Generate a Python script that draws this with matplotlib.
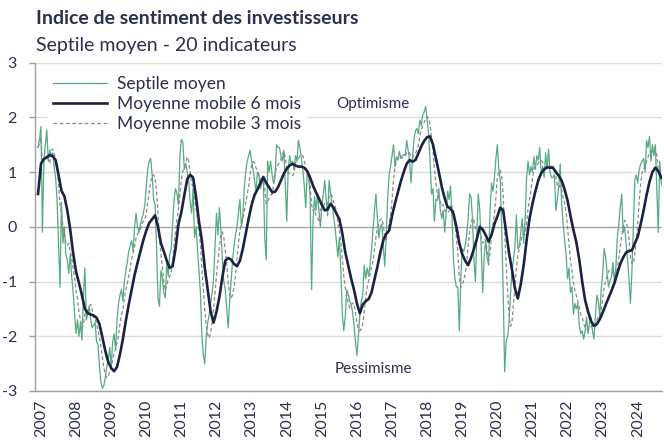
import numpy as np
import pandas as pd
import matplotlib
matplotlib.use("Agg")
import matplotlib.pyplot as plt

plt.rcParams['font.family'] = ['Lato', 'DejaVu Sans']
plt.rcParams['axes.unicode_minus'] = False

# ---------------- data ----------------
START = 2006 + 11 / 12  # December 2006

# Septile moyen (semi-monthly readings)
septile = [
    1.45, 1.6, 1.83, -0.1, 1.2, 1.5, 1.77, 1.2, 1.4, 1.3,
    1.35, 1.1, 0.9, 0.5, -0.3, -1.1, 0.45, -0.3, 0.0, -0.5,
    -0.6, -0.85, -0.5, -0.9, -1.2, -1.6, -1.95, -1.7, -2.0, -1.75,
    -2.07, -1.3, -0.75, -1.7, -1.6, -1.45, -1.7, -1.85, -1.8, -1.75,
    -2.1, -2.15, -2.55, -2.85, -2.95, -2.9, -2.75, -2.55, -2.45, -2.2,
    -2.55, -2.1, -1.95, -2.25, -1.7, -1.4, -1.25, -1.15, -1.35, -1.0,
    -0.8, -0.65, -0.45, -0.35, -0.25, -0.45, 0.0, 0.25, 0.0, -0.1,
    0.05, 0.15, 0.25, 0.4, 0.75, 1.05, 1.2, 1.25, 0.95, 0.5,
    0.4, -0.35, -1.3, -1.45, -0.8, -0.95,
    -1.2, -1.3, -0.65, -0.9, -0.5, -0.4, 0.05, 0.5, 0.7, 0.6,
    0.4, 1.3, 1.6, 1.55, 1.05, 1.15, 1.0, 0.85, 0.45, 0.25,
    0.7, -0.2, 0.0, -0.4, -0.8, -1.2, -2.0, -2.35, -2.5, -2.0,
    -1.75, -1.6, -1.4, -1.2, -0.95, -0.35, 0.25, -0.15, 0.35, -0.05,
    -0.6, -1.0, -1.15, -1.5, -1.85, -1.35, -1.0, -0.6, -0.35, -0.15,
    0.0, 0.25, 0.5, 0.0, 0.2, 0.7, 1.0, 1.2, 1.3, 1.4,
    1.2, 1.05, 0.85, 0.65, 1.0, 0.95, 0.7, 0.8, 0.9, -0.2,
    -0.6, 1.2, 1.0, 1.2, 0.95, 0.8, 0.9, 1.5, 1.45, 1.45,
    1.3, 1.2, 1.4, 0.8, 0.1, 1.05, 1.3, 1.15, 1.2,
    1.05, 1.3, 1.2, 1.58, 1.45, 1.25, 1.05, 0.75, 0.35, 1.0,
    0.92, 0.55, -1.15, 0.1, 0.55, 0.3, 0.6, 0.3, 0.0, 0.35,
    0.6, 0.85, 0.5, 0.2, 0.85, 0.6, 0.4, 0.2, 0.0, -0.28,
    -0.55, -0.2, -0.8, -1.6, -1.9, -1.65, -1.15, -1.22, -1.35, -1.42,
    -1.55, -1.8, -2.1, -2.35, -2.0, -1.6, -1.35, -1.25, -0.7, -0.95,
    -0.75, -0.9, -0.7, -0.4, -0.05, 0.3, 0.6, 0.15, -0.2, 0.0,
    0.05, -0.35, -0.72, -0.2, 0.5, 0.95, 1.1, 1.3, 1.5, 1.1,
    1.28, 1.22, 1.38, 1.25, 1.3, 1.32, 1.3, 1.58, 1.4, 1.22,
    0.8, 1.25, 1.6, 1.75, 1.8, 1.7, 1.95, 1.85, 2.05,
    2.1, 2.2, 1.95, 1.7, 1.2, 0.6, 0.7, 0.1, 0.5, 0.48,
    0.7, 0.3, 0.15, 0.3, -0.1, 0.25, 0.65, 0.5, 0.75, 0.2,
    -0.6, -0.95, -1.1, -1.1, -1.9, -0.95, -0.4, -0.45, -0.35, -0.15,
    0.15, 0.6, 0.55, 0.15, -0.6, -1.0, -0.1, 0.6, 0.3, -0.4,
    -1.2, -0.55, -0.25, -0.55, -0.7, 0.3, 0.8, 0.65, 0.9, 1.25,
    1.5, 1.05, 0.85, -0.05, -1.2, -2.65, -2.1, -2.0, -1.75, -1.22,
    -0.8, -0.6, -0.37, 0.22, -0.4, -0.37, -0.1, 0.15, -0.3, 0.15,
    0.9, 1.2, 0.95, 1.1, 1.0, 1.28, 1.05, 1.3, 1.22, 1.45,
    0.95, 1.1, 0.9, 1.35, 1.05, 1.42, 1.0, 0.9,
    0.9, 0.95, 0.3, 0.5, 0.75, 1.15, 0.4, 0.05, -0.25, -0.5,
    -0.95, -0.75, -1.2, -1.1, -1.6, -1.4, -1.5, -1.4, -1.8, -1.95,
    -1.9, -2.05, -1.9, -1.65, -1.95, -1.75, -1.65, -1.9, -2.05, -1.65,
    -1.25, -1.35, -1.65, -1.15, -0.85, -0.4, -0.55, -0.85, -1.1, -0.98,
    -0.92, -0.65, -1.0, -0.75, -0.2, 0.05, 0.35, 0.6, -0.1, 0.0,
    -0.3, -0.6, -0.95, -1.4, -0.8, 0.0, 0.85, 0.95, 0.8, 1.05,
    1.15, 1.2, 1.25, 1.0, 1.58, 1.45, 1.65, 1.2, 1.5, 1.3,
    1.5, 0.7, -0.1, 1.2, 0.8, 0.73,
]

# Moyenne mobile 6 mois (monthly readings, Dec 2006 - Sep 2024)
mm6 = [
    0.60,
    1.15, 1.24, 1.27, 1.31, 1.29, 1.22, 0.95, 0.66, 0.56, 0.30, -0.05, -0.48,
    -0.82, -1.03, -1.25, -1.50, -1.58, -1.60, -1.62, -1.66, -1.78, -2.02, -2.27, -2.47,
    -2.58, -2.64, -2.56, -2.33, -2.05, -1.72, -1.42, -1.15, -0.88, -0.66, -0.45, -0.24,
    -0.07, 0.07, 0.14, 0.21, 0.00, -0.30, -0.45, -0.62, -0.75, -0.72, -0.40, 0.05,
    0.27, 0.58, 0.87, 0.95, 0.90, 0.55, 0.10, -0.25, -0.75, -1.15, -1.55, -1.75,
    -1.55, -1.28, -0.92, -0.62, -0.57, -0.60, -0.68, -0.72, -0.62, -0.40, -0.12, 0.15,
    0.40, 0.58, 0.68, 0.80, 0.91, 0.80, 0.72, 0.63, 0.64, 0.72, 0.84, 0.97,
    1.06, 1.12, 1.15, 1.12, 1.10, 1.10, 1.08, 1.02, 0.90, 0.75, 0.63, 0.52,
    0.40, 0.30, 0.32, 0.42, 0.35, 0.24, 0.14, -0.12, -0.46, -0.70, -0.94, -1.15,
    -1.40, -1.58, -1.42, -1.36, -1.32, -1.20, -0.96, -0.73, -0.47, -0.25, -0.13, -0.07,
    0.20, 0.43, 0.63, 0.83, 1.00, 1.15, 1.22, 1.19, 1.22, 1.34, 1.47, 1.57,
    1.64, 1.65, 1.50, 1.25, 1.00, 0.73, 0.52, 0.36, 0.34, 0.24, 0.00, -0.30,
    -0.50, -0.62, -0.70, -0.57, -0.40, -0.22, 0.00, -0.05, -0.15, -0.27, -0.15, 0.05,
    0.19, 0.35, 0.30, -0.10, -0.48, -0.78, -1.12, -1.31, -1.05, -0.70, -0.25, 0.15,
    0.42, 0.65, 0.85, 0.98, 1.05, 1.09, 1.08, 1.08, 1.00, 0.93, 0.84, 0.68,
    0.48, 0.20, -0.06, -0.28, -0.60, -1.00, -1.34, -1.55, -1.72, -1.81, -1.78, -1.69,
    -1.57, -1.43, -1.30, -1.17, -1.03, -0.85, -0.68, -0.56, -0.47, -0.44, -0.43, -0.30,
    -0.18, 0.05, 0.30, 0.58, 0.82, 1.00, 1.08, 1.02, 0.90,
]

years = list(range(2007, 2025))
yticks = [-3, -2, -1, 0, 1, 2, 3]

labels = ["Septile moyen", "Moyenne mobile 6 mois", "Moyenne mobile 3 mois"]
title = "Indice de sentiment des investisseurs"
subtitle = "Septile moyen - 20 indicateurs"

# ---------------- derived ----------------
x_sept = START + np.arange(len(septile)) / 24.0
x_mm6 = START + np.arange(len(mm6)) / 12.0
mm3 = pd.Series(septile).rolling(6, min_periods=1).mean().values

# ---------------- styles ----------------
TXT = "#2b3050"
GREEN = "#55ab82"
NAVY = "#1b2244"
DASH = "#8a8a8a"

W, H = 664, 442
fig = plt.figure(figsize=(W / 100, H / 100), dpi=100)
ax = fig.add_axes([35 / W, 51 / H, 627 / W, 328.4 / H])

l1, = ax.plot(x_sept, septile, color=GREEN, lw=0.9, zorder=3)
l3, = ax.plot(x_sept, mm3, color=DASH, lw=0.9, ls=(0, (3, 2)), zorder=4)
l2, = ax.plot(x_mm6, mm6, color=NAVY, lw=1.9, zorder=5)

ax.set_xlim(2006.83, 2024.69)
ax.set_ylim(-3, 3)

for v in yticks:
    ax.axhline(v, color="#a6a6a6" if v == 0 else "#dcdcdc",
               lw=1.0, zorder=1)

ax.set_yticks(yticks)
ax.set_yticklabels([str(v) for v in yticks])
ax.set_xticks(years)
ax.set_xticklabels([str(y) for y in years], rotation=90)

ax.tick_params(axis='y', length=4, width=1, color="#a0a0a0", pad=9,
               labelsize=11.5, labelcolor=TXT)
ax.tick_params(axis='x', length=0, pad=6, labelsize=11.5, labelcolor=TXT)

for s in ["top", "right"]:
    ax.spines[s].set_visible(False)
for s in ["left", "bottom"]:
    ax.spines[s].set_color("#a0a0a0")
    ax.spines[s].set_linewidth(1.0)

leg = ax.legend([l1, l2, l3], labels, loc="upper left",
                bbox_to_anchor=(0.02, 0.975), frameon=True,
                fontsize=12.5, handlelength=3.15, handletextpad=0.57,
                labelspacing=0.22, borderpad=0.3, borderaxespad=0.0)
leg.get_frame().set_facecolor("white")
leg.get_frame().set_edgecolor("none")
leg.get_frame().set_alpha(1.0)
leg.set_zorder(10)
for t in leg.get_texts():
    t.set_color(TXT)

ax.text(2016.46, 2.24, "Optimisme", ha="center", va="center",
        fontsize=11, color=TXT, zorder=11)
ax.text(2016.48, -2.6, "Pessimisme", ha="center", va="center",
        fontsize=11, color=TXT, zorder=11)

fig.text(36 / W, 1 - 18 / H, title, ha="left", va="center",
         fontsize=14, fontweight="bold", color=TXT)
fig.text(36 / W, 1 - 45 / H, subtitle, ha="left", va="center",
         fontsize=14, color=TXT)

fig.savefig("out.png", dpi=100)
